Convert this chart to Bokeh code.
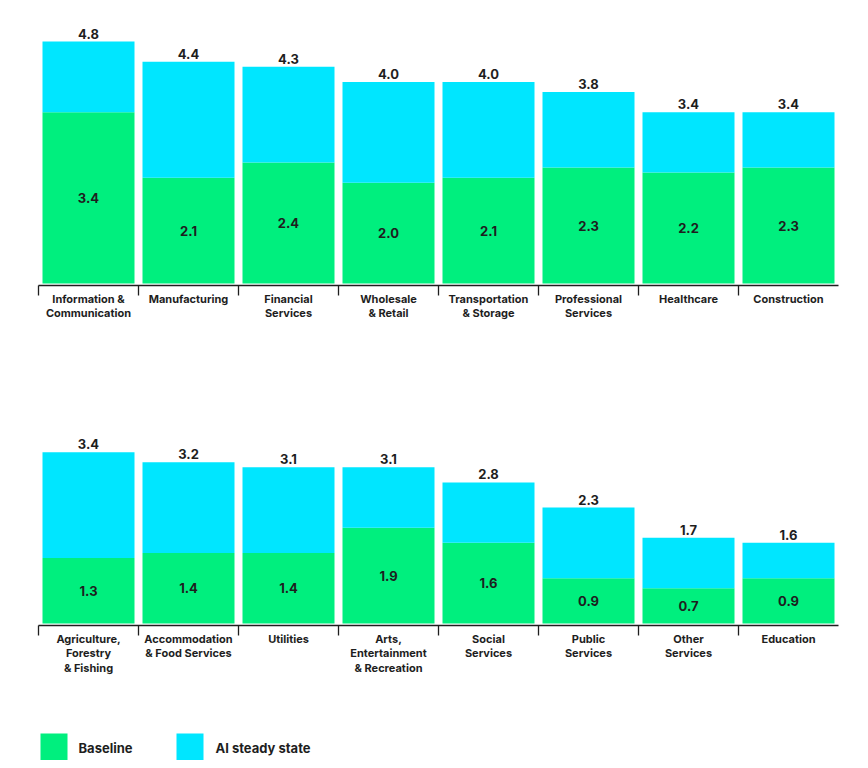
from bokeh.plotting import figure
from bokeh.embed import file_html
from bokeh.resources import INLINE
from bokeh.core.properties import value

top_cats = ["Information &\nCommunication", "Manufacturing", "Financial\nServices", "Wholesale\n& Retail",
            "Transportation\n& Storage", "Professional\nServices", "Healthcare", "Construction"]
top_base = [3.4, 2.1, 2.4, 2.0, 2.1, 2.3, 2.2, 2.3]
top_total = [4.8, 4.4, 4.3, 4.0, 4.0, 3.8, 3.4, 3.4]
bot_cats = ["Agriculture,\nForestry\n& Fishing", "Accommodation\n& Food Services", "Utilities",
            "Arts,\nEntertainment\n& Recreation", "Social\nServices", "Public\nServices", "Other\nServices", "Education"]
bot_base = [1.3, 1.4, 1.4, 1.9, 1.6, 0.9, 0.7, 0.9]
bot_total = [3.4, 3.2, 3.1, 3.1, 2.8, 2.3, 1.7, 1.6]

GREEN = "#00EF7E"
CYAN = "#00E6FF"
INK = "#1e1e1e"
FONT = value("Inter")
S = 50.4  # px per unit
W, H = 852, 760
def px(x): return x / 100 - 0.38
def py(y): return (283 - y) / S

p = figure(width=W, height=H, x_range=(-0.38, W / 100 - 0.38), y_range=(-(H - 283) / S, 283 / S),
           output_backend="svg", toolbar_location=None, min_border=0)
p.axis.visible = False
p.grid.visible = False
p.outline_line_color = None

for cats, base, total, y0 in [(top_cats, top_base, top_total, 0.0), (bot_cats, bot_base, bot_total, py(623))]:
    n = len(cats)
    xs = [i + 0.5 for i in range(n)]
    p.vbar(x=xs, width=0.92, bottom=y0, top=[y0 + b for b in base], fill_color=GREEN, line_color=None)
    p.vbar(x=xs, width=0.92, bottom=[y0 + b for b in base], top=[y0 + t for t in total], fill_color=CYAN, line_color=None)
    p.text(x=xs, y=[y0 + t for t in total], text=[f"{t:.1f}" for t in total], text_align="center",
           text_baseline="bottom", y_offset=-3, text_font=FONT, text_font_style="bold", text_font_size="13px", text_color=INK)
    p.text(x=xs, y=[y0 + b / 2 for b in base], text=[f"{b:.1f}" for b in base], text_align="center",
           text_baseline="middle", text_font=FONT, text_font_style="bold", text_font_size="13px", text_color=INK)
    ya = y0 - 2 / S
    p.segment(x0=[0], y0=[ya], x1=[n], y1=[ya], line_color=INK, line_width=1.3)
    p.segment(x0=list(range(n)), y0=[ya] * n, x1=list(range(n)), y1=[ya - 10 / S] * n, line_color=INK, line_width=1.3)
    p.text(x=xs, y=[y0 - 8 / S] * n, text=cats, text_align="center", text_baseline="top", text_line_height=1.05,
           text_font=FONT, text_font_style="bold", text_font_size="11px", text_color=INK)

# legend
p.rect(x=[px(53.5), px(189.5)], y=[py(747)] * 2, width=27, height=28, width_units="screen", height_units="screen",
       fill_color=[GREEN, CYAN], line_color=None)
p.text(x=[px(78), px(215)], y=[py(747)] * 2, text=["Baseline", "AI steady state"], text_baseline="middle",
       text_font=FONT, text_font_style="bold", text_font_size="13px", text_color=INK)

open("out.html", "w").write(file_html(p, INLINE))
